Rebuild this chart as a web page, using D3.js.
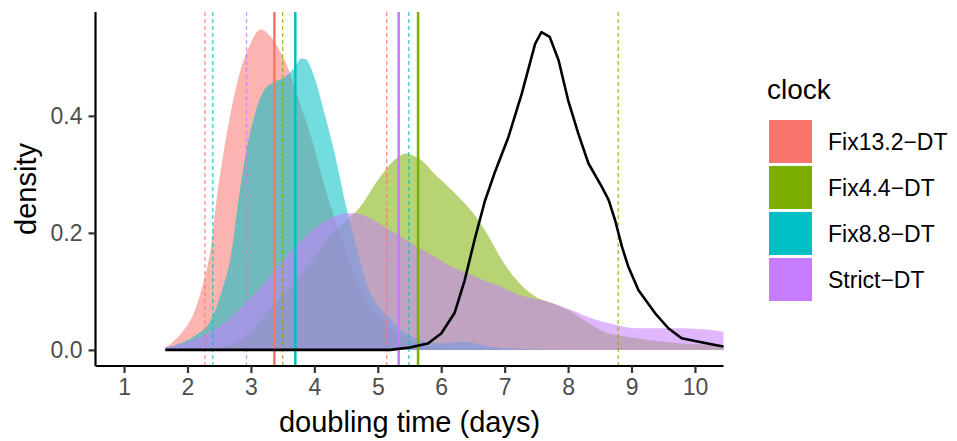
<!DOCTYPE html>
<html><head><meta charset="utf-8">
<script src="https://cdn.jsdelivr.net/npm/d3@7"></script>
<style>body{margin:0;background:#fff}svg{display:block}text{font-family:"Liberation Sans",Arial,sans-serif}</style>
</head><body><svg id="c" width="957" height="441"></svg>
<script>
const clocks = ["Fix13.2−DT","Fix4.4−DT","Fix8.8−DT","Strict−DT"];
const colors = ["#F8766D","#7CAE00","#00BFC4","#C77CFF"];
const xTicks = [1,2,3,4,5,6,7,8,9,10];
const yTicks = [0.0,0.2,0.4];
const yTickLabels = ["0.0","0.2","0.4"];

const densFix132 = [[1.65,0.004],[1.75,0.012],[1.9,0.028],[2.1,0.063],[2.26,0.119],[2.37,0.176],[2.45,0.25],[2.55,0.324],[2.69,0.41],[2.82,0.472],[2.97,0.518],[3.16,0.548],[3.27,0.54],[3.42,0.518],[3.58,0.483],[3.74,0.432],[3.95,0.364],[4.11,0.30],[4.26,0.245],[4.4,0.2],[4.6,0.135],[4.85,0.08],[5.15,0.042],[5.5,0.017],[5.9,0.005],[6.5,0.001],[7.5,0],[10.6,0]];
const densFix44 = [[1.65,0],[2.3,0.001],[2.7,0.008],[3.0,0.03],[3.3,0.07],[3.7,0.115],[4.0,0.158],[4.25,0.195],[4.5,0.222],[4.69,0.24],[5.0,0.29],[5.21,0.319],[5.37,0.333],[5.45,0.336],[5.53,0.333],[5.69,0.324],[5.9,0.30],[6.11,0.279],[6.32,0.256],[6.53,0.23],[6.74,0.195],[6.95,0.155],[7.06,0.137],[7.27,0.11],[7.5,0.09],[7.75,0.08],[8.0,0.068],[8.32,0.046],[8.64,0.028],[8.79,0.025],[9.27,0.017],[9.79,0.011],[10.45,0.008],[10.6,0.007]];
const densFix88 = [[1.65,0.003],[1.8,0.008],[2.1,0.023],[2.37,0.051],[2.53,0.097],[2.69,0.165],[2.79,0.245],[2.92,0.336],[3.05,0.398],[3.21,0.444],[3.37,0.458],[3.53,0.466],[3.69,0.483],[3.79,0.498],[3.86,0.497],[4.0,0.466],[4.16,0.404],[4.32,0.336],[4.48,0.255],[4.63,0.19],[4.84,0.108],[5.16,0.057],[5.53,0.023],[6.0,0.011],[6.37,0.014],[6.74,0.006],[7.2,0.002],[8,0],[10.6,0]];
const densStrict = [[1.65,0.004],[2.1,0.017],[2.63,0.051],[3.16,0.108],[3.69,0.176],[4.11,0.216],[4.48,0.233],[4.6,0.234],[4.84,0.227],[5.11,0.21],[5.37,0.193],[5.63,0.176],[5.9,0.159],[6.16,0.142],[6.42,0.131],[6.69,0.118],[6.95,0.108],[7.16,0.097],[7.69,0.082],[8.05,0.068],[8.37,0.054],[8.74,0.043],[9.11,0.037],[9.5,0.037],[9.79,0.037],[10.32,0.033],[10.45,0.031],[10.6,0.029]];
const densPrior = [[1.65,0],[5.2,0],[5.5,0.004],[5.79,0.011],[6.0,0.028],[6.21,0.063],[6.37,0.119],[6.53,0.19],[6.69,0.255],[6.85,0.305],[7.06,0.364],[7.27,0.438],[7.48,0.523],[7.58,0.543],[7.71,0.535],[7.85,0.495],[8.0,0.427],[8.16,0.37],[8.32,0.319],[8.53,0.279],[8.64,0.256],[8.74,0.222],[8.85,0.176],[8.95,0.142],[9.11,0.102],[9.37,0.063],[9.58,0.037],[9.79,0.02],[10.06,0.014],[10.32,0.0085],[10.45,0.0057],[10.6,0.004]];
const densities = [densFix132, densFix44, densFix88, densStrict];

const medians = [3.37, 5.635, 3.70, 5.33];
const hpdLower = [2.275, 3.50, 2.40, 2.93];
const hpdUpper = [5.14, 8.79, 5.49, 11.2];

const svg = d3.select("#c");
const W = 957, H = 441;
const pL = 95.5, pR = 723.5, pT = 12, pB = 366;
const x = d3.scaleLinear().domain([0.55, 10.45]).range([pL, pR]);
const y = d3.scaleLinear().domain([-0.0275, 0.5775]).range([pB, pT]);

svg.append("rect").attr("width", W).attr("height", H).attr("fill", "#fff");
svg.append("clipPath").attr("id", "clip").append("rect")
  .attr("x", pL).attr("y", pT).attr("width", pR - pL).attr("height", pB - pT);
const plot = svg.append("g").attr("clip-path", "url(#clip)");

const area = d3.area().x(d => x(d[0])).y0(y(0)).y1(d => y(d[1])).curve(d3.curveMonotoneX);
densities.forEach((d, i) => {
  plot.append("path").attr("d", area(d)).attr("fill", colors[i]).attr("fill-opacity", 0.55);
});

clocks.forEach((c, i) => {
  [hpdLower[i], hpdUpper[i]].forEach(v => {
    plot.append("line").attr("x1", x(v)).attr("x2", x(v)).attr("y1", pT).attr("y2", pB)
      .attr("stroke", colors[i]).attr("stroke-opacity", 0.8).attr("stroke-width", 1.3)
      .attr("stroke-dasharray", "4,3");
  });
});
clocks.forEach((c, i) => {
  plot.append("line").attr("x1", x(medians[i])).attr("x2", x(medians[i])).attr("y1", pT).attr("y2", pB)
    .attr("stroke", colors[i]).attr("stroke-width", 2.5);
});

const line = d3.line().x(d => x(d[0])).y(d => y(d[1]));
plot.append("path").attr("d", line(densPrior)).attr("fill", "none").attr("stroke", "#000")
  .attr("stroke-width", 2.6).attr("stroke-linejoin", "round");

const xAxis = svg.append("g").attr("transform", `translate(0,${pB})`)
  .call(d3.axisBottom(x).tickValues(xTicks).tickSize(7).tickPadding(6).tickFormat(d3.format("d")));
const yAxis = svg.append("g").attr("transform", `translate(${pL},0)`)
  .call(d3.axisLeft(y).tickValues(yTicks).tickSize(7).tickPadding(6).tickFormat((d, i) => yTickLabels[i]));
[xAxis, yAxis].forEach(a => {
  a.select(".domain").attr("stroke", "#000").attr("stroke-width", 2.2);
  a.selectAll(".tick line").attr("stroke", "#333").attr("stroke-width", 2.2);
  a.selectAll(".tick text").attr("fill", "#4D4D4D").style("font-size", "23px")
    .style("font-family", '"Liberation Sans",Arial,sans-serif');
});
xAxis.select(".domain").attr("d", `M${pL},0H${pR}`);
yAxis.select(".domain").attr("d", `M0,${pB}V${pT}`);

svg.append("text").attr("x", (pL + pR) / 2).attr("y", 432).attr("text-anchor", "middle")
  .style("font-size", "29px").attr("fill", "#000").text("doubling time (days)");
svg.append("text").attr("transform", `translate(36,${(pT + pB) / 2}) rotate(-90)`)
  .attr("text-anchor", "middle").style("font-size", "29px").attr("fill", "#000").text("density");

const lg = svg.append("g");
lg.append("text").attr("x", 767).attr("y", 99).style("font-size", "28px").attr("fill", "#000").text("clock");
clocks.forEach((c, i) => {
  const ky = 120 + i * 46;
  lg.append("rect").attr("x", 769).attr("y", ky).attr("width", 43).attr("height", 43).attr("fill", colors[i]);
  lg.append("text").attr("x", 828).attr("y", ky + 21.5).attr("dy", "0.35em")
    .style("font-size", "23px").attr("fill", "#000").text(c);
});
</script></body></html>
